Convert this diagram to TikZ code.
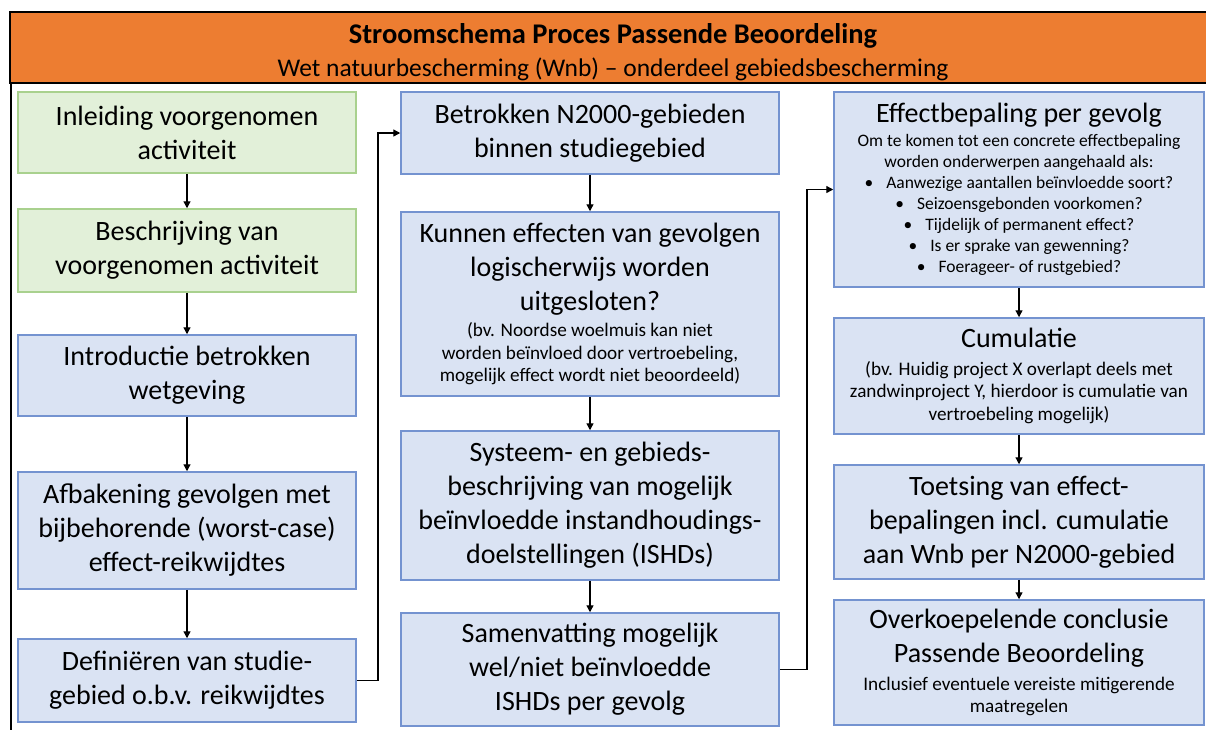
\documentclass[tikz,border=0pt]{standalone}
\usepackage{fontspec}
\setmainfont{Carlito}
\usetikzlibrary{arrows.meta}

\definecolor{headorange}{HTML}{ED7D31}
\definecolor{boxblue}{HTML}{DAE3F3}
\definecolor{lineblue}{HTML}{7493D0}
\definecolor{boxgreen}{HTML}{E2F0D9}
\definecolor{linegreen}{HTML}{A9D18E}

\newcommand{\boxfont}{\fontsize{28}{34}\selectfont}
\newcommand{\notefont}{\fontsize{19.2}{22.5}\selectfont}
\newcommand{\bul}{\textbullet\hspace{13pt}}

\begin{document}
\begin{tikzpicture}[x=1pt,y=-1pt,
  greenbox/.style={draw=linegreen, fill=boxgreen, line width=1.5pt, align=flush center, inner xsep=4pt, inner ysep=0pt, font=\boxfont},
  bluebox/.style={draw=lineblue, fill=boxblue, line width=1.5pt, align=flush center, inner xsep=4pt, inner ysep=0pt, font=\boxfont},
  flow/.style={draw, line width=1.3pt, -{Triangle[length=7pt,width=7pt]}}]

\useasboundingbox[fill=white] (0,0) rectangle (1206,729);
\draw[line width=1.5pt] (11,83) rectangle (1215,740);

\node[draw, line width=1.5pt, fill=headorange, text width=1206pt, minimum height=71pt, align=flush center, inner sep=0pt] (head) at (613,47.5)
  {\rule{0pt}{30pt}{\fontsize{28.5}{33}\selectfont\bfseries Stroomschema Proces Passende Beoordeling}\\
   \fontsize{25.5}{33}\selectfont Wet natuurbescherming (Wnb) -- onderdeel gebiedsbescherming\par};

\node[greenbox, text width=330pt, minimum height=81pt] (l1) at (187,132.5) {Inleiding voorgenomen\\ activiteit};
\node[greenbox, text width=330pt, minimum height=83pt] (l2) at (187,250.5) {Beschrijving van\\ voorgenomen activiteit};
\node[bluebox, text width=330pt, minimum height=81pt] (l3) at (187,375.5) {Introductie betrokken\\ wetgeving};
\node[bluebox, text width=330pt, minimum height=117pt] (l4) at (187,530.5) {Afbakening gevolgen met\\ bijbehorende (worst-case)\\ effect-reikwijdtes};
\node[bluebox, text width=330pt, minimum height=83pt] (l5) at (187,680.5) {Definiëren van studie-\\ gebied o.b.v. reikwijdtes};

\node[bluebox, text width=370pt, minimum height=82pt] (m1) at (590,133) {Betrokken N2000-gebieden\\ binnen studiegebied};
\node[bluebox, text width=370pt, minimum height=184pt] (m2) at (590,304) {Kunnen effecten van gevolgen\\ logischerwijs worden\\ uitgesloten?\\[4pt]
  \notefont (bv. Noordse woelmuis kan niet\\ worden beïnvloed door vertroebeling,\\ mogelijk effect wordt niet beoordeeld)\par};
\node[bluebox, text width=370pt, minimum height=149pt] (m3) at (590,505.5) {Systeem- en gebieds-\\ beschrijving van mogelijk\\ beïnvloedde instandhoudings-\\ doelstellingen (ISHDs)};
\node[bluebox, text width=370pt, minimum height=113pt] (m4) at (590,669.5) {Samenvatting mogelijk\\ wel/niet beïnvloedde\\ ISHDs per gevolg};

\node[bluebox, text width=362pt, minimum height=195pt] (r1) at (1019,189.5) {Effectbepaling per gevolg\\[3pt]
  \fontsize{17.5}{21}\selectfont Om te komen tot een concrete effectbepaling\\ worden onderwerpen aangehaald als:\\
  \bul Aanwezige aantallen beïnvloedde soort?\\ \bul Seizoensgebonden voorkomen?\\ \bul Tijdelijk of permanent effect?\\
  \bul Is er sprake van gewenning?\\ \bul Foerageer- of rustgebied?\par};
\node[bluebox, text width=362pt, minimum height=116pt] (r2) at (1019,376) {Cumulatie\\[5pt]
  \notefont (bv. Huidig project X overlapt deels met\\ zandwinproject Y, hierdoor is cumulatie van\\ vertroebeling mogelijk)\par};
\node[bluebox, text width=362pt, minimum height=114pt] (r3) at (1019,522) {Toetsing van effect-\\ bepalingen incl. cumulatie\\ aan Wnb per N2000-gebied};
\node[bluebox, text width=362pt, minimum height=125pt] (r4) at (1019,662.5) {Overkoepelende conclusie\\ Passende Beoordeling\\[5pt]
  \notefont Inclusief eventuele vereiste mitigerende\\ maatregelen\par};

\coordinate (lane1) at (378,400);
\coordinate (lane2) at (807,400);

\path[flow] (l1) -- (l2);
\path[flow] (l2) -- (l3);
\path[flow] (l3) -- (l4);
\path[flow] (l4) -- (l5);
\path[flow] (l5.east) -| (lane1) |- (m1.west);

\path[flow] (m1) -- (m2);
\path[flow] (m2) -- (m3);
\path[flow] (m3) -- (m4);
\path[flow] (m4.east) -| (lane2) |- (r1.west);

\path[flow] (r1) -- (r2);
\path[flow] (r2) -- (r3);
\path[flow] (r3) -- (r4);
\end{tikzpicture}
\end{document}
